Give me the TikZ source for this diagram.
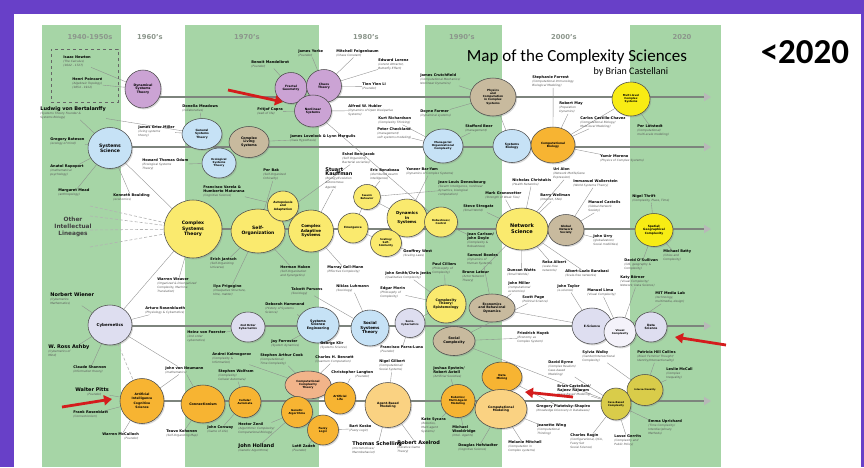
\documentclass[tikz,border=0pt]{standalone}
\usepackage{fontspec}
\setmainfont{DejaVu Sans}
\newfontfamily\carlito{Carlito}
\usetikzlibrary{shapes.geometric,arrows.meta,shadows}
\pgfdeclarelayer{back}\pgfdeclarelayer{links}
\pgfsetlayers{back,links,main}
\definecolor{bgp}{RGB}{104,64,200}
\definecolor{colg}{RGB}{166,213,166}
\definecolor{hdr}{RGB}{140,150,140}
\definecolor{purp}{RGB}{203,163,212}
\definecolor{lblue}{RGB}{198,226,246}
\definecolor{tanc}{RGB}{200,186,158}
\definecolor{yel}{RGB}{250,234,110}
\definecolor{byel}{RGB}{248,236,20}
\definecolor{orng}{RGB}{247,180,50}
\definecolor{lorng}{RGB}{250,210,130}
\definecolor{salm}{RGB}{242,180,138}
\definecolor{lav}{RGB}{222,222,240}
\definecolor{vwhite}{RGB}{244,242,250}
\definecolor{olive}{RGB}{217,204,74}
\definecolor{roleg}{RGB}{85,85,85}
\definecolor{tlg}{RGB}{125,132,125}
\definecolor{arrred}{RGB}{212,28,28}
\newcommand\nm[1]{{\fontsize{3.6}{4.2}\selectfont\upshape\bfseries\color{black}#1}}
\newcommand\nmB[1]{{\fontsize{5.0}{5.8}\selectfont\upshape\bfseries\color{black}#1}}
\newcommand\fz[1]{\fontsize{#1}{#1}\bfseries\baselineskip=1.15\baselineskip}
\begin{document}
\begin{tikzpicture}[x=1pt,y=-1pt,
 bub/.style={ellipse, draw=black!70, line width=0.55pt, inner sep=-1pt, align=center, text=black,
   drop shadow={shadow xshift=1.2pt, shadow yshift=-1.4pt, opacity=0.3}},
 person/.style={anchor=north west, align=left, inner sep=0.2pt, yshift=2.5pt,
   font=\fontsize{2.9}{4.1}\selectfont\itshape, text=roleg},
 link/.style={draw=black!45, line width=0.35pt},
 lineage/.style={draw=black!30, line width=0.6pt, dash pattern=on 3pt off 2pt},
 timeline/.style={draw=tlg, line width=2.4pt, -{Triangle[length=7pt,width=8pt,color=black!28]}},
 redarrow/.style={draw=arrred, line width=2.8pt, -{Triangle[length=8pt,width=10pt]}},
 header/.style={font=\fontsize{6.8}{8}\selectfont\bfseries, text=hdr}]
\useasboundingbox (0,0) rectangle (864,467);
\begin{pgfonlayer}{back}
\fill[bgp] (0,0) rectangle (864,467);
\fill[white] (14,14) rectangle (861,467);
\fill[colg] (42,25) rectangle (121,467);
\fill[colg] (185,25) rectangle (319,467);
\fill[colg] (425,25) rectangle (502,467);
\fill[colg] (630,25) rectangle (721,467);
\end{pgfonlayer}
% headers
\node[header] (h1) at (90,37) {1940-1950s};
\node[header] (h2) at (150,37) {1960's};
\node[header] (h3) at (247,37) {1970's};
\node[header] (h4) at (366,37) {1980's};
\node[header] (h5) at (462,37) {1990's};
\node[header] (h6) at (564,37) {2000's};
\node[header] (h7) at (682,37) {2020};
\node[font=\carlito\fontsize{17}{20}\selectfont] (title) at (577,57) {Map of the Complexity Sciences};
\node[font=\carlito\fontsize{10}{12}\selectfont] (byline) at (631,72) {by Brian Castellani};
\node[font=\carlito\bfseries\fontsize{35}{40}\selectfont] (yr) at (805,52) {<2020};
\node[draw=black!60, dashed, line width=0.5pt, minimum width=67pt, minimum height=53pt, inner sep=0pt] (nbox) at (84.5,75.5) {};
\node[font=\fontsize{5.8}{7}\selectfont\bfseries, text=black!75, align=center] (oil) at (73,227) {Other\\Intellectual\\Lineages};
% ---------- bubbles row 1
\node[bub, fill=purp, minimum width=36pt, minimum height=38pt, font=\fz{3.2}] (dst) at (143,89) {Dynamical\\Systems\\Theory};
\node[bub, fill=purp, minimum width=32pt, minimum height=31pt, font=\fz{3.0}] (fg) at (291,88) {Fractal\\Geometry};
\node[bub, fill=purp, minimum width=35pt, minimum height=33pt, font=\fz{3.0}] (chaos) at (324,86) {Chaos\\Theory};
\node[bub, fill=purp, minimum width=37pt, minimum height=32pt, font=\fz{3.0}] (nls) at (313,111) {Nonlinear\\Systems};
\node[bub, fill=tanc, minimum width=46pt, minimum height=38pt, font=\fz{2.8}] (pccs) at (493,97) {Physics\\and\\Computation\\in Complex\\Systems};
\node[bub, fill=byel, minimum width=38pt, minimum height=34pt, font=\fz{2.7}] (mlcs) at (631,99) {Multi-level\\Complex\\Systems};
% row 2
\node[bub, fill=lblue, minimum width=44pt, minimum height=41pt, font=\fz{4.6}] (ss) at (110,148) {Systems\\Science};
\node[bub, fill=lblue, minimum width=40pt, minimum height=31pt, font=\fz{2.9}] (gst) at (202,134) {General\\Systems\\Theory};
\node[bub, fill=tanc, minimum width=40pt, minimum height=31pt, font=\fz{3.3}] (cls) at (249,142) {Complex\\Living\\Systems};
\node[bub, fill=lblue, minimum width=34pt, minimum height=30pt, font=\fz{2.7}] (est) at (219,163) {Ecological\\Systems\\Theory};
\node[bub, fill=lblue, minimum width=40pt, minimum height=34pt, font=\fz{2.7}] (moc) at (443,146) {Managerial\\Organizational\\Complexity};
\node[bub, fill=lblue, minimum width=38pt, minimum height=33pt, font=\fz{3.0}] (sb) at (512,146) {Systems\\Biology};
\node[bub, fill=orng, minimum width=44pt, minimum height=36pt, font=\fz{2.9}] (cb) at (553,145) {Computational\\Biology};
% row 3
\node[bub, fill=yel, minimum width=58pt, minimum height=58pt, font=\fz{4.6}] (cst) at (193,229) {Complex\\Systems\\Theory};
\node[bub, fill=yel, minimum width=54pt, minimum height=44pt, font=\fz{4.5}] (selforg) at (258,231) {Self-\\Organization};
\node[bub, fill=yel, minimum width=31pt, minimum height=30pt, font=\fz{2.9}] (aut) at (283,206) {Autopoiesis\\and\\Adaptation};
\node[bub, fill=yel, minimum width=45pt, minimum height=42pt, font=\fz{4.0}] (cas) at (311,231) {Complex\\Adaptive\\Systems};
\node[bub, fill=yel, minimum width=30pt, minimum height=30pt, font=\fz{2.8}] (em) at (353,228) {Emergence};
\node[bub, fill=yel, minimum width=27pt, minimum height=25pt, font=\fz{2.6}] (sw) at (367,197) {Swarm\\Behavior};
\node[bub, fill=yel, minimum width=40pt, minimum height=38pt, font=\fz{4.0}] (dis) at (407,218) {Dynamics\\in\\Systems};
\node[bub, fill=yel, minimum width=31pt, minimum height=27pt, font=\fz{2.6}] (sc) at (386,243) {Scaling/\\Self-\\Similarity};
\node[bub, fill=yel, minimum width=33pt, minimum height=30pt, font=\fz{2.6}] (rc) at (441,222) {Robustness/\\Control};
\node[bub, fill=yel, minimum width=52pt, minimum height=42pt, font=\fz{5.0}] (ns) at (522,229) {Network\\Science};
\node[bub, fill=tanc, minimum width=36pt, minimum height=31pt, font=\fz{2.8}] (gns) at (566,230) {Global\\Network\\Society};
\node[bub, fill=byel, minimum width=38pt, minimum height=33pt, font=\fz{2.9}] (sgc) at (654,230) {Spatial/\\Geographical\\Complexity};
% row 4
\node[bub, fill=lav, minimum width=44pt, minimum height=40pt, font=\fz{4.0}] (cyb) at (110,325) {Cybernetics};
\node[bub, fill=lav, minimum width=34pt, minimum height=30pt, font=\fz{2.7}] (soc) at (248,327) {2nd Order\\Cybernetics};
\node[bub, fill=lblue, minimum width=42pt, minimum height=36pt, font=\fz{3.3}] (sse) at (318,325) {Systems\\Science\\Engineering};
\node[bub, fill=lblue, minimum width=38pt, minimum height=36pt, font=\fz{4.0}] (sst) at (370,328) {Social\\Systems\\Theory};
\node[bub, fill=lav, minimum width=30pt, minimum height=29pt, font=\fz{2.6}] (scyb) at (410,323) {Socio-\\Cybernetics};
\node[bub, fill=yel, minimum width=40pt, minimum height=38pt, font=\fz{3.3}] (epis) at (446,304) {Complexity\\Theory/\\Epistemology};
\node[bub, fill=tanc, minimum width=46pt, minimum height=28pt, font=\fz{3.2}] (econ) at (492,308) {Economics\\and Behavioral\\Dynamics};
\node[bub, fill=tanc, minimum width=42pt, minimum height=29pt, font=\fz{3.4}] (socc) at (454,341) {Social\\Complexity};
\node[bub, fill=lav, minimum width=40pt, minimum height=36pt, font=\fz{3.0}] (es) at (592,326) {E-Science};
\node[bub, fill=vwhite, minimum width=32pt, minimum height=30pt, font=\fz{2.6}] (vc) at (620,332) {Visual\\Complexity};
\node[bub, fill=lav, minimum width=32pt, minimum height=30pt, font=\fz{3.0}] (ds) at (651,327) {Data\\Science};
% row 5
\node[bub, fill=orng, minimum width=44pt, minimum height=45pt, font=\fz{3.1}] (ai) at (142,401) {Artificial\\Intelligence\\[2pt]Cognitive\\Science};
\node[bub, fill=orng, minimum width=44pt, minimum height=38pt, font=\fz{3.3}] (conn) at (203,404) {Connectionism};
\node[bub, fill=orng, minimum width=32pt, minimum height=31pt, font=\fz{2.7}] (ca) at (245,402) {Cellular\\Automata};
\node[bub, fill=salm, minimum width=46pt, minimum height=28pt, font=\fz{2.8}] (cct) at (308,385) {Computational\\Complexity\\Theory};
\node[bub, fill=orng, minimum width=31pt, minimum height=31pt, font=\fz{2.7}] (ga) at (297,412) {Genetic\\Algorithms};
\node[bub, fill=orng, minimum width=31pt, minimum height=32pt, font=\fz{2.8}] (al) at (340,398) {Artificial\\Life};
\node[bub, fill=orng, minimum width=31pt, minimum height=30pt, font=\fz{2.8}] (fl) at (323,430) {Fuzzy\\Logic};
\node[bub, fill=lorng, minimum width=46pt, minimum height=45pt, font=\fz{3.0}] (abm) at (388,405) {Agent-Based\\Modeling};
\node[bub, fill=orng, minimum width=34pt, minimum height=33pt, font=\fz{2.7}] (rob) at (458,401) {Robotics/\\Multi-Agent\\Modeling};
\node[bub, fill=orng, minimum width=40pt, minimum height=30pt, font=\fz{2.8}] (dm) at (502,377) {Data\\Mining};
\node[bub, fill=lorng, minimum width=52pt, minimum height=39pt, font=\fz{3.1}] (cm) at (501,409) {Computational\\Modeling};
\node[bub, fill=olive, minimum width=36pt, minimum height=31pt, font=\fz{2.3}] (inter) at (645,390) {Intersectionality};
\node[bub, fill=olive, minimum width=30pt, minimum height=32pt, font=\fz{2.5}] (cbc) at (616,404) {Case-Based\\Complexity};
% ---------- people
\node[person] (newton) at (63,58) {\nm{Isaac Newton}\\(The Calculus)\\(1642 - 1727)};
\node[person] (poinc) at (72,80) {\nm{Henri Poincaré}\\(Algebraic Topology)\\(1854 - 1912)};
\node[person] (bert) at (40,109) {\nmB{Ludwig von Bertalanffy}\\(Systems Theory Founder \&\\Systems Biology)};
\node[person] (meadows) at (182,107) {\nm{Donella Meadows}\\(collaborative)};
\node[person] (miller) at (138,128) {\nm{James Grier Miller}\\(living systems\\theory)};
\node[person] (bateson) at (50,140) {\nm{Gregory Bateson}\\(ecology of mind)};
\node[person] (odum) at (142,161) {\nm{Howard Thomas Odum}\\(Ecological Systems\\Theory)};
\node[person] (rapoport) at (50,167) {\nm{Anatol Rapoport}\\(mathematical\\psychology)};
\node[person] (mead) at (58,191) {\nm{Margaret Mead}\\(anthropology)};
\node[person] (boulding) at (113,196) {\nm{Kenneth Boulding}\\(economics)};
\node[person] (varela) at (203,188) {\nm{Francisco Varela \&}\\\nm{Humberto Maturana}\\(Cognitive Science)};
\node[person] (jantsch) at (210,260) {\nm{Erich Jantsch}\\(Self-Organizing\\Universe)};
\node[person] (weaver) at (157,280) {\nm{Warren Weaver}\\(Organized \& Disorganized\\Complexity, Machine\\Translation)};
\node[person] (prigogine) at (213,287) {\nm{Ilya Prigogine}\\(Dissipative Structure,\\time, matter)};
\node[person] (wiener) at (50,295) {\nmB{Norbert Wiener}\\(Cybernetics\\Mathematics)};
\node[person] (rosenblueth) at (145,309) {\nm{Arturo Rosenblueth}\\(Physiology \& Cybernetics)};
\node[person] (ashby) at (48,347) {\nmB{W. Ross Ashby}\\(Cybernetics of\\Mind)};
\node[person] (shannon) at (73,368) {\nm{Claude Shannon}\\(Information theory)};
\node[person] (pitts) at (75,390) {\nmB{Walter Pitts}\\\hspace*{12pt}(Founder)};
\node[person] (rosenblatt) at (73,413) {\nm{Frank Rosenblatt}\\(Connectionism)};
\node[person] (mcculloch) at (102,435) {\nm{Warren McCulloch}\\\hspace*{22pt}(Founder)};
\node[person] (neumann) at (165,369) {\nm{John von Neumann}\\(mathematics)};
\node[person] (foerster) at (187,333) {\nm{Heinz von Foerster}\\(2nd order\\cybernetics)};
\node[person] (kolmogorov) at (212,355) {\nm{Andrei Kolmogorov}\\(Complexity \&\\Information)};
\node[person] (wolfram) at (218,372) {\nm{Stephen Wolfram}\\(Complexity/\\Cellular Automata)};
\node[person] (kohonen) at (166,432) {\nm{Teuvo Kohonen}\\(Self-Organizing Map)};
\node[person] (conway) at (207,428) {\nm{John Conway}\\(Game of Life)};
\node[person] (forrester) at (271,342) {\nm{Jay Forrester}\\(System dynamics)};
\node[person] (cook) at (260,356) {\nm{Stephen Arthur Cook}\\(Computational/\\Time Complexity)};
\node[person] (klir) at (320,344) {\nm{George Klir}\\(Systems Science)};
\node[person] (bennett) at (315,358) {\nm{Charles H. Bennett}\\(Quantum Computation)};
\node[person] (parraluna) at (380,348) {\nm{Francisco Parra-Luna}\\(Founder)};
\node[person] (gilbert) at (379,362) {\nm{Nigel Gilbert}\\(Computational/\\Social Systems)};
\node[person] (langton) at (331,373) {\nm{Christopher Langton}\\\hspace*{24pt}(Founder)};
\node[person] (zenil) at (238,425) {\nm{Hector Zenil}\\(Algorithmic Complexity/\\Computational Biology)};
\node[person] (holland) at (238,446) {\nmB{John Holland}\\(Genetic Algorithms)};
\node[person] (zadeh) at (292,447) {\nm{Lotfi Zadeh}\\(Founder)};
\node[person] (kosko) at (349,427) {\nm{Bart Kosko}\\(Fuzzy Logic)};
\node[person] (schelling) at (352,444) {\nmB{Thomas Schelling}\\(micromotives/\\Macrobehavior)};
\node[person] (axelrod) at (397,443) {\nmB{Robert Axelrod}\\(Iterative Game\\Theory)};
\node[person] (sycara) at (421,420) {\nm{Kate Sycara}\\(Robotics,\\Multi-agent\\Systems)};
\node[person] (hayek) at (517,334) {\nm{Friedrich Hayek}\\(Economy as\\Complex System)};
\node[person] (walby) at (582,353) {\nm{Sylvia Walby}\\(Gender/Intersectional\\Complexity)};
\node[person] (byrne) at (548,363) {\nm{David Byrne}\\(Complex Realism/\\Case-based\\Modeling)};
\node[person] (castellani) at (557,387) {\nm{Brian Castellani/}\\\nm{Rajeev Rajaram}\\(Case-Based Modeling)};
\node[person] (epstein) at (433,369) {\nm{Joshua Epstein/}\\\nm{Robert Axtell}\\(Artificial Societies)};
\node[person] (piatetsky) at (536,407) {\nm{Gregory Piatetsky-Shapiro}\\(Knowledge Discovery in Databases)};
\node[person] (wooldridge) at (452,428) {\nm{Michael}\\\nm{Wooldridge}\\(Intel. Agents)};
\node[person] (hofstadter) at (458,446) {\nm{Douglas Hofstadter}\\(Cognitive Science)};
\node[person] (wing) at (537,426) {\nm{Jeanette Wing}\\(Computational\\Thinking)};
\node[person] (mitchell) at (508,443) {\nm{Melanie Mitchell}\\(Computation in\\Complex systems)};
\node[person] (ragin) at (570,436) {\nm{Charles Ragin}\\(Configurational, QCA,\\Fuzzy Set\\Social Science)};
\node[person] (gerrits) at (614,437) {\nm{Lasse Gerrits}\\(Complexity and\\Public Policy)};
\node[person] (collins) at (637,353) {\nm{Patricia Hill Collins}\\(Black Feminist Thought/\\Identity/Intersectionality)};
\node[person] (mccall) at (666,370) {\nm{Leslie McCall}\\(Complex\\Inequality)};
\node[person] (uprichard) at (648,422) {\nm{Emma Uprichard}\\(Time Complexity/\\Interdisciplinary\\Methods)};
\node[person] (thrift) at (632,197) {\nm{Nigel Thrift}\\(Complexity, Place, Time)};
\node[person] (batty) at (663,252) {\nm{Michael Batty}\\(Cities and\\Complexity)};
\node[person] (osullivan) at (624,261) {\nm{David O'Sullivan}\\(GIS, geography \&\\Complexity)};
\node[person] (borner) at (620,278) {\nm{Katy Börner}\\(Visual Complexity/\\Network; Data Science)};
\node[person] (mit) at (655,294) {\nm{MIT Media Lab}\\(technology,\\multimedia, design)};
\node[person] (alon) at (553,170) {\nm{Uri Alon}\\(Network Motifs/Gene\\Expression)};
\node[person] (christakis) at (512,181) {\nm{Nicholas Christakis}\\(Health Networks)};
\node[person] (wallerstein) at (573,182) {\nm{Immanuel Wallerstein}\\(World Systems Theory)};
\node[person] (deneubourg) at (438,183) {\nm{Jean-Louis Deneubourg}\\(Swarm Intelligence, nonlinear\\dynamics, biological\\computation)};
\node[person] (granovetter) at (485,194) {\nm{Mark Granovetter}\\(Strength of Weak Ties)};
\node[person] (wellman) at (540,196) {\nm{Barry Wellman}\\(Internet, SNA)};
\node[person] (strogatz) at (463,207) {\nm{Steve Strogatz}\\(Small World)};
\node[person] (castells) at (588,203) {\nm{Manuel Castells}\\(Global Network\\Society)};
\node[person] (carlson) at (467,235) {\nm{Jean Carlson/}\\\nm{John Doyle}\\(Complexity \&\\Robustness)};
\node[person] (bowles) at (467,256) {\nm{Samuel Bowles}\\(Dynamics of\\Human Systems)};
\node[person] (cilliers) at (432,265) {\nm{Paul Cilliers}\\(Philosophy of\\Complexity)};
\node[person] (latour) at (462,273) {\nm{Bruno Latour}\\(Actor Network\\Theory)};
\node[person] (ralbert) at (542,263) {\nm{Reka Albert}\\(scale-free\\networks)};
\node[person] (watts) at (507,271) {\nm{Duncan Watts}\\(Small Worlds)};
\node[person] (barabasi) at (565,272) {\nm{Albert-Lazlo Barabasi}\\(Scale-free networks)};
\node[person] (jmiller) at (508,284) {\nm{John Miller}\\(computational\\economics)};
\node[person] (taylor) at (557,287) {\nm{John Taylor}\\(e-science)};
\node[person] (lima) at (587,291) {\nm{Manuel Lima}\\(Visual Complexity)};
\node[person] (page) at (522,298) {\nm{Scott Page}\\(Political Science)};
\node[person] (urry) at (593,237) {\nm{John Urry}\\(globalization/\\Social mobilities)};
\node[person] (bak) at (263,171) {\nm{Per Bak}\\(Self-Organized\\Criticality)};
\node[person] (kauffman) at (325,170) {\nmB{Stuart}\\\nmB{Kauffman}\\(Biology/Evolution\\Autonomous\\Agents)};
\node[person] (bonabeau) at (370,171) {\nm{Eric Bonabeau}\\(distributed swarm\\intelligence)};
\node[person] (baryam) at (406,170) {\nm{Yaneer Bar-Yam}\\(Dynamics of Complex Systems)};
\node[person] (west) at (403,252) {\nm{Geoffrey West}\\(Scaling Laws)};
\node[person] (haken) at (280,268) {\nm{Herman Haken}\\(Self-Organization\\and Synergetics)};
\node[person] (gellmann) at (327,268) {\nm{Murray Gell-Mann}\\(Effective Complexity)};
\node[person] (smith) at (385,274) {\nm{John Smith/Chris Jenks}\\(Qualitative Complexity)};
\node[person] (luhmann) at (336,287) {\nm{Niklas Luhmann}\\(Sociology)};
\node[person] (parsons) at (291,290) {\nm{Talcott Parsons}\\(Sociology)};
\node[person] (morin) at (380,289) {\nm{Edgar Morin}\\(Philosophy of\\Complexity)};
\node[person] (hammond) at (265,305) {\nm{Deborah Hammond}\\(History of Systems\\Science)};
\node[person] (yorke) at (298,52) {\nm{James Yorke}\\(Founder)};
\node[person] (feigenbaum) at (336,52) {\nm{Mitchell Feigenbaum}\\(Chaos Constant)};
\node[person] (lorenz) at (378,61) {\nm{Edward Lorenz}\\(Lorenz Attractor,\\Butterfly Effect)};
\node[person] (mandelbrot) at (251,63) {\nm{Benoit Mandelbrot}\\(Founder)};
\node[person] (li) at (362,85) {\nm{Tien Yien Li}\\(Founder)};
\node[person] (capra) at (257,110) {\nm{Fritjof Capra}\\(web of life)};
\node[person] (hubler) at (348,107) {\nm{Alfred W. Hubler}\\(Dynamics of Open Dissipative\\Systems)};
\node[person] (richardson) at (378,119) {\nm{Kurt Richardson}\\(Complexity Thinking)};
\node[person] (checkland) at (377,130) {\nm{Peter Checkland}\\(management/\\soft systems modeling)};
\node[person] (lovelock) at (290,137) {\nm{James Lovelock \& Lynn Margulis}\\(Gaia Hypothesis)};
\node[person] (benjacob) at (342,155) {\nm{Eshel Ben-Jacob}\\(Self Organizing\\Bacterial societies)};
\node[person] (crutchfield) at (420,76) {\nm{James Crutchfield}\\(Computational Mechanics/\\Nonlinear Dynamics)};
\node[person] (farmer) at (420,112) {\nm{Doyne Farmer}\\(Dynamical systems)};
\node[person] (beer) at (465,127) {\nm{Stafford Beer}\\(management)};
\node[person] (forrest) at (532,78) {\nm{Stephanie Forrest}\\(Computational Immunology\\Biological Modeling)};
\node[person] (may) at (559,104) {\nm{Robert May}\\(Population\\Dynamics)};
\node[person] (castillo) at (580,119) {\nm{Carlos Castillo-Chavez}\\(Computational Biology/\\Multi-level Modeling)};
\node[person] (moreno) at (600,157) {\nm{Yamir Moreno}\\(Physics of Complex Systems)};
\node[person] (lotstedt) at (637,127) {\nm{Per Lötstedt}\\(Computational/\\multi-scale modeling)};
% ---------- coordinates
\coordinate (t1s) at (143,97); \coordinate (t1e) at (711,97);
\coordinate (t2s) at (110,147); \coordinate (t2e) at (711,147);
\coordinate (t3s) at (193,229); \coordinate (t3e) at (711,229);
\coordinate (t4s) at (110,326); \coordinate (t4e) at (711,326);
\coordinate (t5s) at (142,401); \coordinate (t5e) at (711,401);
\coordinate (ol1) at (90,206); \coordinate (ol2) at (90,216);
\coordinate (ol3) at (90,230); \coordinate (ol4) at (90,247);
\coordinate (ra1s) at (228,90); \coordinate (ra1e) at (283,102);
\coordinate (ra2s) at (62,407); \coordinate (ra2e) at (112,399);
\coordinate (ra3s) at (573,397); \coordinate (ra3e) at (525,392);
\coordinate (ra4s) at (726,345); \coordinate (ra4e) at (675,337);
\begin{pgfonlayer}{links}
\foreach \s/\e in {t1s/t1e,t2s/t2e,t3s/t3e,t4s/t4e,t5s/t5e}
  \draw[timeline] (\s) -- (\e);
\foreach \s in {ol1,ol2,ol3,ol4} \draw[lineage] (\s) -- (cst);
\draw[lineage] (cyb) -- (ai);
\foreach \a/\b in {newton/dst,poinc/dst,bert/ss,bert/gst,meadows/gst,miller/gst,bateson/ss,rapoport/ss,mead/ss,boulding/ss,
 odum/est,ss/cst,cyb/cst,varela/aut,bak/selforg,jantsch/selforg,prigogine/selforg,haken/selforg,weaver/cst,
 wiener/cyb,rosenblueth/cyb,ashby/cyb,shannon/cyb,cyb/neumann,neumann/ai,neumann/conn,pitts/ai,rosenblatt/ai,mcculloch/ai,
 foerster/soc,kolmogorov/cct,wolfram/ca,cook/cct,kohonen/conn,conway/ca,forrester/sse,klir/sse,hammond/sse,bennett/cct,
 parraluna/scyb,gilbert/abm,langton/al,zenil/ga,holland/ga,zadeh/fl,kosko/fl,schelling/abm,axelrod/abm,sycara/rob,
 wooldridge/rob,epstein/rob,hofstadter/cm,mitchell/cm,wing/cm,piatetsky/dm,hayek/socc,walby/inter,byrne/cbc,castellani/cbc,
 ragin/cbc,gerrits/cbc,collins/inter,mccall/inter,uprichard/cbc,thrift/sgc,batty/sgc,osullivan/sgc,borner/vc,mit/vc,
 lima/vc,taylor/es,alon/ns,christakis/ns,granovetter/ns,wellman/ns,strogatz/ns,wallerstein/gns,castells/gns,urry/gns,
 ralbert/ns,watts/ns,barabasi/ns,carlson/rc,bowles/econ,cilliers/epis,jmiller/econ,page/socc,deneubourg/sw,
 kauffman/cas,gellmann/cas,bonabeau/sw,baryam/dis,west/sc,smith/epis,morin/epis,luhmann/sst,parsons/sst,yorke/chaos,
 feigenbaum/chaos,lorenz/chaos,li/chaos,mandelbrot/fg,capra/nls,hubler/nls,lovelock/cls,richardson/moc,checkland/moc,
 beer/moc,crutchfield/pccs,farmer/pccs,forrest/cb,may/cb,castillo/cb,moreno/cb,lotstedt/mlcs,cb/mlcs,sb/pccs,nls/rc,
 aut/selforg,em/sw,em/sc,dis/sw,socc/cbc,econ/es,scyb/epis,latour/ns,benjacob/selforg}
  \draw[link] (\a) -- (\b);
\end{pgfonlayer}
\foreach \s/\e in {ra1s/ra1e,ra2s/ra2e,ra3s/ra3e,ra4s/ra4e}
  \draw[redarrow] (\s) -- (\e);
\end{tikzpicture}
\end{document}
